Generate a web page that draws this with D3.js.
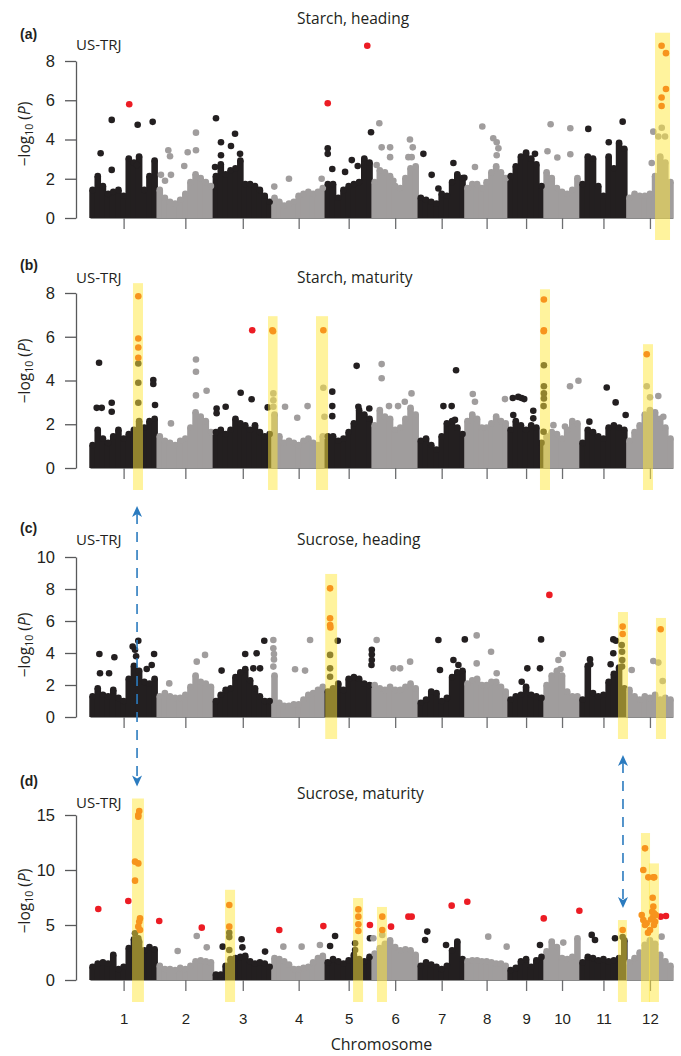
<!DOCTYPE html>
<html>
<head>
<meta charset="utf-8">
<script src="https://cdn.jsdelivr.net/npm/d3@7"></script>
<style>
  body { margin: 0; background: #fff; }
</style>
</head>
<body>
<div class="chart"></div>
<script>

// chromosome names and lengths (Mb) along the genome axis
var chromosomes = ["1", "2", "3", "4", "5", "6", "7", "8", "9", "10", "11", "12"];
var chrLengths = [43, 36, 37.5, 34, 30, 29.5, 30, 27.5, 23, 23, 30, 29.5];

// ---- (a) Starch, heading ----
// upper edge of the dense SNP cloud, read left to right inside each chromosome
var starchHeadingCloud = [
  [1.6, 2.3, 1.8, 1.4, 1.5, 1.6, 1.3, 3.2, 3.0, 3.3, 1.6, 2.3, 3.1],
  [1.6, 1.2, 1.0, 0.9, 1.1, 1.4, 2.0, 2.4, 2.2, 2.0, 1.8],
  [2.3, 2.9, 2.4, 2.6, 2.7, 3.1, 1.9, 1.9, 1.8, 1.6, 1.3, 1.0],
  [1.2, 1.0, 0.8, 0.9, 1.0, 1.3, 1.4, 1.5, 1.4, 1.5, 1.7],
  [1.9, 1.9, 1.2, 1.6, 1.8, 1.9, 2.0, 3.2, 3.0],
  [2.0, 2.6, 2.5, 2.3, 1.8, 1.7, 2.2, 2.7, 2.8],
  [1.2, 1.1, 1.0, 0.9, 1.4, 1.3, 2.0, 2.4, 2.2],
  [1.7, 1.9, 1.9, 1.7, 2.0, 2.5, 2.8, 2.5, 2.2],
  [2.3, 2.8, 3.3, 3.5, 3.2, 2.9, 1.8],
  [2.5, 2.2, 1.7, 1.5, 1.4, 1.6, 2.2],
  [1.9, 3.3, 3.2, 1.8, 1.3, 3.3, 2.7, 4.0, 3.7],
  [1.2, 1.4, 1.3, 1.3, 1.4, 2.3, 3.3, 3.0, 2.0]
];
// single SNPs above the cloud: [chromosome, Mb, -log10 P]
var starchHeadingSnps = [
  [1, 6.8, 3.3], [1, 13.9, 2.45], [1, 13.9, 5.0], [1, 30.5, 4.75], [1, 40.1, 4.9], [1, 30.0, 2.7],
  [2, 7.1, 3.45], [2, 8.2, 3.15], [2, 2.4, 2.2], [2, 8.8, 2.2], [2, 19.5, 3.35], [2, 24.8, 4.35], [2, 24.8, 3.45], [2, 17.3, 2.65], [2, 5, 1.9],
  [3, 1.6, 5.08], [3, 4.8, 3.86], [3, 4.8, 3.2], [3, 11.2, 3.67], [3, 13.8, 4.29], [3, 17, 3.27], [3, 1.0, 2.6],
  [4, 1.4, 1.6], [4, 10.8, 2.0], [4, 31.7, 2.0],
  [5, 1.6, 3.55], [5, 1.6, 3.27], [5, 4.5, 2.5], [5, 12.7, 2.35], [5, 17, 2.95], [5, 20.8, 2.65], [5, 29.3, 4.37],
  [6, 4.6, 4.83], [6, 6.1, 3.6], [6, 11.5, 3.6], [6, 11.5, 3.1], [6, 2.9, 2.7], [6, 24.2, 4.0], [6, 26, 3.6], [6, 23.2, 3.1], [6, 25.3, 3.1], [6, 13.6, 1.9],
  [7, 3.3, 3.27], [7, 8.6, 2.2], [7, 12.9, 1.5], [7, 22.5, 2.8], [7, 29.5, 2.05],
  [8, 11, 4.66], [8, 18, 4.06], [8, 20.2, 3.86], [8, 21.3, 3.55], [8, 20.2, 3.2], [8, 6.3, 2.6],
  [9, 17.2, 3.27],
  [10, 4.2, 4.78], [10, 2.2, 3.4], [10, 8.5, 3.08], [10, 16.8, 4.57], [10, 16.8, 3.25],
  [11, 5.3, 4.54], [11, 27.3, 4.91], [11, 18.4, 3.86],
  [12, 16.9, 4.4], [12, 22.3, 4.6], [12, 20.1, 4.15], [12, 24.4, 4.15], [12, 15.9, 2.8]
];
var starchHeadingRed = [[1, 25.1, 5.8], [5, 1.6, 5.85], [5, 26.9, 8.78]];
var starchHeadingOrange = [[12, 22.2, 8.78], [12, 25.0, 8.4], [12, 25.0, 6.57], [12, 22.2, 6.14], [12, 22.2, 5.71]];
// highlighted regions: [chromosome, start Mb, end Mb, top]
var starchHeadingBands = [[12, 18.0, 27.6, 9.44]];

// ---- (b) Starch, maturity ----
var starchMaturityCloud = [
  [1.2, 1.9, 1.5, 1.3, 1.6, 1.9, 1.5, 1.7, 1.9, 2.3, 2.0, 2.3, 2.4],
  [1.6, 1.4, 1.3, 1.2, 1.4, 1.5, 2.0, 2.7, 2.5, 2.3, 1.8],
  [1.8, 1.9, 1.7, 1.9, 2.4, 2.2, 2.1, 1.9, 2.1, 1.8, 1.6, 1.7],
  [2.6, 1.6, 1.3, 1.4, 1.3, 1.2, 1.4, 1.5, 1.3, 1.2, 1.6],
  [1.6, 1.6, 1.4, 1.5, 1.8, 2.2, 2.8, 2.6, 2.4],
  [2.1, 2.8, 2.5, 2.4, 1.9, 2.0, 2.4, 2.9, 2.6],
  [1.4, 1.5, 1.2, 1.0, 1.6, 2.2, 2.3, 2.0, 1.7],
  [2.3, 2.6, 2.4, 2.0, 2.0, 2.2, 2.5, 2.3, 2.2],
  [1.9, 2.3, 2.1, 1.9, 2.1, 2.0, 1.3],
  [1.6, 1.8, 1.7, 1.5, 1.9, 2.3, 2.2],
  [1.3, 1.9, 1.8, 1.6, 1.5, 2.0, 2.1, 2.0, 1.9],
  [1.4, 1.8, 2.1, 2.6, 2.8, 2.7, 2.4, 2.0, 1.5]
];
var starchMaturitySnps = [
  [1, 5.8, 4.81], [1, 4.3, 2.75], [1, 7.5, 2.75], [1, 13.9, 2.98], [1, 13.9, 2.57], [1, 30.9, 4.78], [1, 30.9, 3.9], [1, 30.9, 2.98], [1, 40.5, 4.02], [1, 40.5, 3.84], [1, 41.6, 2.88],
  [2, 24.8, 4.96], [2, 24.8, 4.4], [2, 24.8, 3.32], [2, 31.6, 3.53], [2, 8.8, 2.04],
  [3, 2, 2.72], [3, 2, 2.5], [3, 7.8, 2.8], [3, 17.4, 3.44], [3, 24.4, 3.14], [3, 34.7, 2.77],
  [4, 0.8, 3.41], [4, 0.8, 3.1], [4, 0.8, 2.8], [4, 8.3, 2.8], [4, 16.1, 2.3], [4, 22.7, 2.83], [4, 32.8, 3.67], [4, 33.5, 2.34],
  [5, 4.5, 3.49], [5, 4.5, 2.83], [5, 4.5, 2.37], [5, 20.1, 4.67], [5, 21.2, 2.8], [5, 28.2, 2.72],
  [6, 6.1, 4.75], [6, 6.1, 4.1], [6, 10.8, 2.83], [6, 16.6, 2.83], [6, 20.9, 3.03], [6, 25.2, 3.41],
  [7, 24.2, 4.47], [7, 16.1, 2.83], [7, 21.4, 2.83], [7, 23.5, 2.2],
  [8, 4.9, 3.38], [8, 6.3, 3.03], [8, 25.5, 3.15],
  [9, 3, 3.2], [9, 6.5, 3.25], [9, 8.6, 3.2], [9, 10.3, 3.15], [9, 3.3, 2.42], [9, 16.1, 2.62], [9, 16.1, 2.27],
  [9, 22.9, 4.7], [9, 22.9, 3.74], [9, 22.9, 3.41], [9, 22.9, 3.18], [9, 22.7, 2.83], [9, 22.7, 1.66],
  [10, 16.6, 3.74], [10, 22, 3.99], [10, 6, 1.96], [10, 13.4, 1.9],
  [11, 17.1, 3.68], [11, 22.8, 3.0], [11, 29.2, 2.42], [11, 6, 2.12],
  [12, 12.7, 3.74], [12, 14.8, 3.23], [12, 20.1, 3.29], [12, 23.3, 2.34]
];
var starchMaturityRed = [[3, 24.8, 6.3]];
var starchMaturityOrange = [
  [1, 30.9, 7.85], [1, 30.9, 5.92], [1, 30.9, 5.51], [1, 30.9, 5.04],
  [4, 0.2, 6.3], [4, 0.6, 6.25], [4, 32.8, 6.3],
  [9, 22.9, 7.7], [9, 22.9, 6.3], [9, 22.8, 6.25],
  [12, 12.7, 5.2]
];
var starchMaturityBands = [[1, 27.5, 33.9, 8.45], [3, 34.9, 41.0, 6.94], [4, 28.1, 35.8, 6.94], [9, 20.4, 26.8, 8.17], [12, 10.3, 16.7, 5.66]];

// ---- (c) Sucrose, heading ----
var sucroseHeadingCloud = [
  [1.5, 2.0, 1.6, 1.5, 1.9, 1.4, 1.2, 2.6, 3.4, 3.1, 2.4, 2.3, 2.6],
  [1.5, 1.7, 1.5, 1.4, 1.4, 1.6, 2.1, 2.8, 2.4, 2.3, 2.1],
  [1.2, 1.6, 1.9, 2.0, 2.7, 3.0, 3.2, 2.5, 2.0, 1.5, 1.2, 1.2],
  [2.8, 1.1, 0.9, 0.9, 1.0, 1.0, 1.3, 1.6, 1.7, 1.9, 2.1],
  [1.8, 2.0, 2.3, 1.9, 2.6, 2.7, 2.6, 2.3, 2.2],
  [2.2, 2.0, 1.9, 2.1, 1.9, 1.9, 2.1, 2.3, 2.0],
  [1.1, 1.3, 1.8, 1.7, 1.2, 1.4, 2.7, 3.0, 3.1],
  [2.3, 2.5, 2.6, 2.2, 2.2, 2.4, 2.4, 2.1, 1.8],
  [1.3, 1.5, 1.6, 2.1, 1.6, 1.5, 1.4],
  [2.2, 2.8, 3.1, 2.8, 1.8, 1.5, 1.5],
  [1.3, 3.4, 1.7, 1.5, 1.6, 2.4, 2.9, 3.3, 2.0],
  [1.9, 1.5, 1.3, 1.5, 1.4, 1.6, 1.3, 1.4, 1.3]
];
var sucroseHeadingSnps = [
  [1, 6, 3.94], [1, 6.4, 2.73], [1, 12.2, 2.73], [1, 15.6, 3.73], [1, 27.3, 4.4], [1, 28.8, 4.2], [1, 30.9, 4.77], [1, 41, 3.94], [1, 36.3, 3.0], [1, 39.5, 3.25], [1, 29.5, 3.8],
  [2, 25.3, 3.46], [2, 30.6, 3.88], [2, 7.7, 2.1],
  [3, 5.2, 2.9], [3, 20.3, 3.94], [3, 25.5, 3.04], [3, 27.6, 3.98], [3, 29.8, 3.04], [3, 32.5, 4.77],
  [4, 0.8, 4.81], [4, 0.8, 4.3], [4, 1.2, 3.94], [4, 1.2, 3.6], [4, 0.8, 3.15], [4, 14.7, 2.98], [4, 24.3, 4.81], [4, 21.1, 2.9],
  [5, 8.0, 4.77], [5, 29.8, 4.2], [5, 29.8, 3.9], [5, 29.8, 3.56], [5, 29.6, 3.25], [5, 3.1, 3.88], [5, 3.1, 3.04], [5, 3.1, 2.52],
  [6, 2.9, 4.81], [6, 13.6, 3.04], [6, 17.9, 3.04], [6, 24.3, 3.46],
  [7, 12.9, 4.81], [7, 13.9, 2.94], [7, 22.5, 3.56], [7, 25.7, 3.25], [7, 29.8, 4.85],
  [8, 7.4, 5.1], [8, 7.4, 3.35], [8, 16.6, 4.08], [8, 20.2, 2.73],
  [9, 21.1, 4.85], [9, 12.3, 3.04], [9, 20.4, 3.04], [9, 8.7, 2.2],
  [10, 12, 3.94], [10, 9.2, 3.56], [10, 10.5, 3.0],
  [11, 6.4, 3.6], [11, 6.6, 3.3], [11, 19.6, 3.3], [11, 21.3, 3.98], [11, 21.3, 4.85], [11, 23, 4.77], [11, 26.7, 4.5], [11, 26.9, 4.08], [11, 27, 3.56], [11, 26.9, 3.15],
  [12, 3.1, 2.94], [12, 16.9, 3.5], [12, 20.1, 3.4], [12, 22.9, 2.25]
];
var sucroseHeadingRed = [[10, 3.4, 7.63]];
var sucroseHeadingOrange = [
  [5, 3.1, 8.04], [5, 3.1, 6.17], [5, 3.1, 5.75], [5, 3.3, 5.6],
  [11, 27.3, 5.65], [11, 27.3, 5.19],
  [12, 21.6, 5.48]
];
var sucroseHeadingBands = [[5, 0, 7.6, 8.94], [11, 24.3, 30.7, 6.56], [12, 18.6, 25, 6.19]];

// ---- (d) Sucrose, maturity ----
var sucroseMaturityCloud = [
  [1.5, 1.8, 1.9, 1.8, 2.6, 1.3, 1.5, 3.2, 4.0, 3.8, 3.0, 3.3, 3.1],
  [1.6, 1.3, 1.3, 1.2, 1.4, 1.3, 1.6, 2.0, 2.1, 2.0, 1.9],
  [0.8, 0.8, 1.6, 2.2, 2.3, 2.4, 2.5, 2.0, 1.8, 1.9, 1.8, 1.5],
  [2.3, 2.2, 2.0, 1.7, 1.3, 1.3, 1.4, 1.5, 1.9, 2.3, 2.5],
  [1.9, 2.2, 2.0, 1.8, 2.1, 2.6, 2.2, 2.0, 2.4],
  [2.7, 3.2, 3.6, 3.9, 3.3, 3.0, 3.1, 3.0, 2.6],
  [1.6, 1.9, 1.7, 1.5, 1.3, 1.6, 3.0, 3.8, 2.2],
  [2.0, 2.1, 2.1, 2.0, 2.0, 1.9, 1.8, 1.8, 1.6],
  [1.2, 1.4, 2.0, 2.2, 1.5, 2.1, 2.4],
  [2.9, 3.8, 3.3, 2.3, 2.2, 2.4, 4.1],
  [1.9, 2.4, 2.3, 2.1, 2.2, 2.0, 2.1, 2.3, 3.9],
  [1.9, 2.3, 2.8, 3.5, 3.9, 3.6, 2.6, 2.0, 1.6]
];
var sucroseMaturitySnps = [
  [1, 28.8, 4.24], [1, 30.9, 3.8],
  [2, 13.1, 2.64], [2, 25.3, 4.0], [2, 31.7, 2.97],
  [3, 10.1, 4.3], [3, 10.1, 3.9], [3, 10.1, 2.73], [3, 5.9, 3.03], [3, 18, 3.7], [3, 18.5, 2.97], [3, 33, 2.58],
  [4, 7.2, 3.03], [4, 18.9, 3.03], [4, 30.6, 3.18],
  [5, 6.3, 4.0], [5, 3.1, 3.09], [5, 28.6, 3.8], [5, 19.1, 3.33], [5, 19.1, 2.73],
  [6, 0.8, 3.8], [6, 6.5, 4.1],
  [7, 5.8, 4.4], [7, 4.4, 3.64], [7, 17.8, 3.18],
  [8, 14.8, 3.94], [8, 26.6, 3.03],
  [9, 20.4, 3.18],
  [10, 12.3, 3.4],
  [11, 7.5, 4.1], [11, 9.6, 3.64], [11, 22.4, 3.8], [11, 27.3, 3.9],
  [12, 22.2, 3.94]
];
var sucroseMaturityRed = [
  [1, 5.3, 6.45], [1, 24.5, 7.18], [2, 1.3, 5.36], [2, 28.5, 4.76], [4, 4.6, 4.55], [4, 32.8, 4.9],
  [5, 28.6, 5.0], [6, 12.1, 4.85], [6, 23.2, 5.76], [6, 25.3, 5.76], [7, 21.4, 6.76], [8, 1.4, 7.12],
  [9, 22.8, 5.6], [10, 22.6, 6.3], [12, 21.6, 5.76], [12, 25.0, 5.82]
];
var sucroseMaturityOrange = [
  [1, 31.5, 15.36], [1, 30.9, 15.0], [1, 30.9, 14.85], [1, 28.8, 10.76], [1, 30.9, 10.6], [1, 28.8, 9.03],
  [1, 32, 5.6], [1, 31.5, 5.3], [1, 30.9, 4.85], [1, 32, 4.55],
  [3, 10.1, 6.82], [3, 10.1, 4.85],
  [5, 21.2, 6.42], [5, 21.2, 5.76], [5, 21.2, 5.06], [5, 21.2, 4.45],
  [6, 6.5, 5.76], [6, 6.5, 4.55],
  [11, 27.3, 4.55],
  [12, 11.6, 11.97], [12, 10.5, 10.0], [12, 13.7, 9.33], [12, 16.9, 9.33], [12, 17.5, 9.33], [12, 16.5, 7.48],
  [12, 16.9, 6.67], [12, 16.2, 6.2], [12, 17.3, 6.06], [12, 9.5, 5.9], [12, 10.5, 5.45], [12, 12.6, 5.15],
  [12, 14.8, 4.55], [12, 16.9, 5.76], [12, 18.0, 5.3], [12, 17.3, 5.0], [12, 11.6, 5.0], [12, 15.5, 5.5],
  [12, 13.5, 4.3], [12, 18.5, 5.9]
];
var sucroseMaturityBands = [
  [1, 26.9, 34.5, 16.5], [3, 7.4, 13.8, 8.2], [5, 17.8, 24.2, 7.45], [6, 3.1, 9.5, 6.64],
  [11, 24.3, 30, 5.45], [12, 9.0, 14.8, 13.36], [12, 14.1, 20.5, 10.6]
];

// dashed arrows linking panels: [chromosome, Mb, from panel, to panel]
var linkArrows = [[1, 30.1, 1, 3], [11, 27.5, 2, 3]];

// ---------------------------------------------------------------
var svgWidth = 681;
var svgHeight = 1056;

var black = "#231f20";
var gray = "#a09d9d";
var red = "#ec1c24";
var orange = "#f7941d";
var bandFill = "#ffe83c";
var blue = "#2b7bbf";
var axisColor = "#58595b";
var r = 3.3;
var bandBelow = 22;

var numFont = "'Liberation Sans', Arial, sans-serif";
var textFont = "'Open Sans', 'Noto Sans', sans-serif";

var svg = d3.select(".chart")
  .append("svg")
  .attr("width", svgWidth)
  .attr("height", svgHeight);

// genome x scale on cumulative Mb
var chrStart = [];
var total = 0;
chrLengths.forEach(function(len) {
  chrStart.push(total);
  total += len;
});
var x = d3.scaleLinear().domain([0, total]).range([90, 673]);
var chrMids = chrLengths.map(function(len, i) { return chrStart[i] + len / 2; });

function gx(chr, mb) {
  return x(chrStart[chr - 1] + mb);
}
function chrColor(chr) {
  return chr % 2 === 1 ? black : gray;
}

var panels = [
  { letter: "(a)", title: "Starch, heading", ticks: [0, 2, 4, 6, 8], y0: 218, yTop: 61,
    titleY: 24, popY: 50, letterY: 39, labelY: 134,
    cloud: starchHeadingCloud, snps: starchHeadingSnps, red: starchHeadingRed,
    orange: starchHeadingOrange, bands: starchHeadingBands },
  { letter: "(b)", title: "Starch, maturity", ticks: [0, 2, 4, 6, 8], y0: 468, yTop: 293,
    titleY: 283, popY: 283, letterY: 270, labelY: 371,
    cloud: starchMaturityCloud, snps: starchMaturitySnps, red: starchMaturityRed,
    orange: starchMaturityOrange, bands: starchMaturityBands },
  { letter: "(c)", title: "Sucrose, heading", ticks: [0, 2, 4, 6, 8, 10], y0: 717, yTop: 557,
    titleY: 545, popY: 545, letterY: 533, labelY: 645,
    cloud: sucroseHeadingCloud, snps: sucroseHeadingSnps, red: sucroseHeadingRed,
    orange: sucroseHeadingOrange, bands: sucroseHeadingBands },
  { letter: "(d)", title: "Sucrose, maturity", ticks: [0, 5, 10, 15], y0: 980, yTop: 815,
    titleY: 799, popY: 808, letterY: 786, labelY: 901,
    cloud: sucroseMaturityCloud, snps: sucroseMaturitySnps, red: sucroseMaturityRed,
    orange: sucroseMaturityOrange, bands: sucroseMaturityBands }
];

panels.forEach(function(p, pi) {

  var y = d3.scaleLinear()
    .domain([0, p.ticks[p.ticks.length - 1]])
    .range([p.y0, p.yTop]);
  p.y = y;

  var g = svg.append("g");

  // y axis
  var gy = g.append("g")
    .attr("transform", "translate(76,0)")
    .call(d3.axisLeft(y).tickValues(p.ticks).tickSize(11).tickSizeOuter(0).tickPadding(10));
  gy.select(".domain").attr("stroke", axisColor).attr("stroke-width", 1.3);
  gy.selectAll(".tick line").attr("stroke", axisColor).attr("stroke-width", 1.3);
  gy.selectAll(".tick text")
    .attr("fill", black)
    .style("font-family", numFont)
    .style("font-size", "16.5px");

  // x axis (labels only on the last panel)
  var xAxis = d3.axisBottom(x)
    .tickValues(chrMids)
    .tickSize(11)
    .tickSizeOuter(0)
    .tickPadding(22)
    .tickFormat(pi === 3 ? function(d, i) { return chromosomes[i]; } : "");
  var gxAxis = g.append("g")
    .attr("transform", "translate(0," + p.y0 + ")")
    .call(xAxis);
  gxAxis.select(".domain").attr("stroke", "#8a8a8a").attr("stroke-width", 1.2);
  gxAxis.selectAll(".tick line").attr("stroke", "#6d6e70").attr("stroke-width", 1.3);
  gxAxis.selectAll(".tick text")
    .attr("fill", black)
    .style("font-family", numFont)
    .style("font-size", "15px");

  // dense cloud of SNPs: columns of overlapping dots, the top dot reaching the value
  var columns = [];
  p.cloud.forEach(function(vals, c) {
    vals.forEach(function(v, j) {
      columns.push({ chr: c + 1, mb: (j + 0.5) * chrLengths[c] / vals.length, v: v });
    });
  });

  var cloud = g.append("g");
  cloud.selectAll("line")
    .data(columns)
    .enter()
    .append("line")
    .attr("x1", d => gx(d.chr, d.mb))
    .attr("x2", d => gx(d.chr, d.mb))
    .attr("y1", p.y0)
    .attr("y2", d => y(d.v) + r)
    .attr("stroke", d => chrColor(d.chr))
    .attr("stroke-width", 2 * r);
  cloud.selectAll("circle")
    .data(columns)
    .enter()
    .append("circle")
    .attr("cx", d => gx(d.chr, d.mb))
    .attr("cy", d => y(d.v) + r)
    .attr("r", r)
    .attr("fill", d => chrColor(d.chr));

  // single SNPs
  g.append("g").selectAll("circle")
    .data(p.snps)
    .enter()
    .append("circle")
    .attr("cx", d => gx(d[0], d[1]))
    .attr("cy", d => y(d[2]))
    .attr("r", r)
    .attr("fill", d => chrColor(d[0]));

  // significant SNPs outside highlighted regions
  g.append("g").selectAll("circle")
    .data(p.red)
    .enter()
    .append("circle")
    .attr("cx", d => gx(d[0], d[1]))
    .attr("cy", d => y(d[2]))
    .attr("r", r)
    .attr("fill", red);

  // highlighted regions
  g.append("g").selectAll("rect")
    .data(p.bands)
    .enter()
    .append("rect")
    .attr("x", d => gx(d[0], d[1]))
    .attr("width", d => gx(d[0], d[2]) - gx(d[0], d[1]))
    .attr("y", d => y(d[3]))
    .attr("height", d => p.y0 + bandBelow - y(d[3]))
    .attr("fill", bandFill)
    .attr("fill-opacity", 0.5);

  // significant SNPs inside highlighted regions
  g.append("g").selectAll("circle")
    .data(p.orange)
    .enter()
    .append("circle")
    .attr("cx", d => gx(d[0], d[1]))
    .attr("cy", d => y(d[2]))
    .attr("r", r)
    .attr("fill", orange);

  // panel texts
  g.append("text")
    .attr("x", 20)
    .attr("y", p.letterY)
    .text(p.letter)
    .style("font-family", numFont)
    .style("font-weight", "bold")
    .style("font-size", "14px")
    .attr("fill", black);

  g.append("text")
    .attr("x", 76)
    .attr("y", p.popY)
    .text("US-TRJ")
    .style("font-family", textFont)
    .style("font-size", "15px")
    .attr("fill", black);

  g.append("text")
    .attr("x", 297)
    .attr("y", p.titleY)
    .text(p.title)
    .style("font-family", textFont)
    .style("font-size", "15.5px")
    .attr("fill", black);

  // y label
  var lab = g.append("text")
    .attr("transform", "translate(30," + p.labelY + ") rotate(-90)")
    .attr("text-anchor", "middle")
    .style("font-family", textFont)
    .style("font-size", "15.5px")
    .attr("fill", black);
  lab.append("tspan").text("\u2212log");
  lab.append("tspan").attr("dy", 3).style("font-size", "10.5px").text("10");
  lab.append("tspan").attr("dy", -3).text(" (");
  lab.append("tspan").style("font-style", "italic").text("P");
  lab.append("tspan").text(")");
});

// x label
svg.append("text")
  .attr("x", x(total / 2))
  .attr("y", 1050)
  .attr("text-anchor", "middle")
  .text("Chromosome")
  .style("font-family", textFont)
  .style("font-size", "16px")
  .attr("fill", black);

// dashed blue arrows between panels
linkArrows.forEach(function(a) {
  var ax = gx(a[0], a[1]);
  var from = panels[a[2]];
  var to = panels[a[3]];
  var band = to.bands.filter(function(b) {
    return b[0] === a[0] && a[1] >= b[1] && a[1] <= b[2];
  })[0];
  var yStart = from.y0 + bandBelow + 16;
  var yEnd = to.y(band[3]) - 12;

  svg.append("line")
    .attr("x1", ax).attr("x2", ax)
    .attr("y1", yStart + 8).attr("y2", yEnd - 8)
    .attr("stroke", blue)
    .attr("stroke-width", 1.6)
    .style("stroke-dasharray", "10, 8");

  // arrow heads
  svg.append("path")
    .attr("d", "M0,0 L5,11 L0,8 L-5,11 Z")
    .attr("transform", "translate(" + ax + "," + yStart + ")")
    .attr("fill", blue);
  svg.append("path")
    .attr("d", "M0,0 L5,11 L0,8 L-5,11 Z")
    .attr("transform", "translate(" + ax + "," + yEnd + ") rotate(180)")
    .attr("fill", blue);
});

</script>
</body>
</html>
